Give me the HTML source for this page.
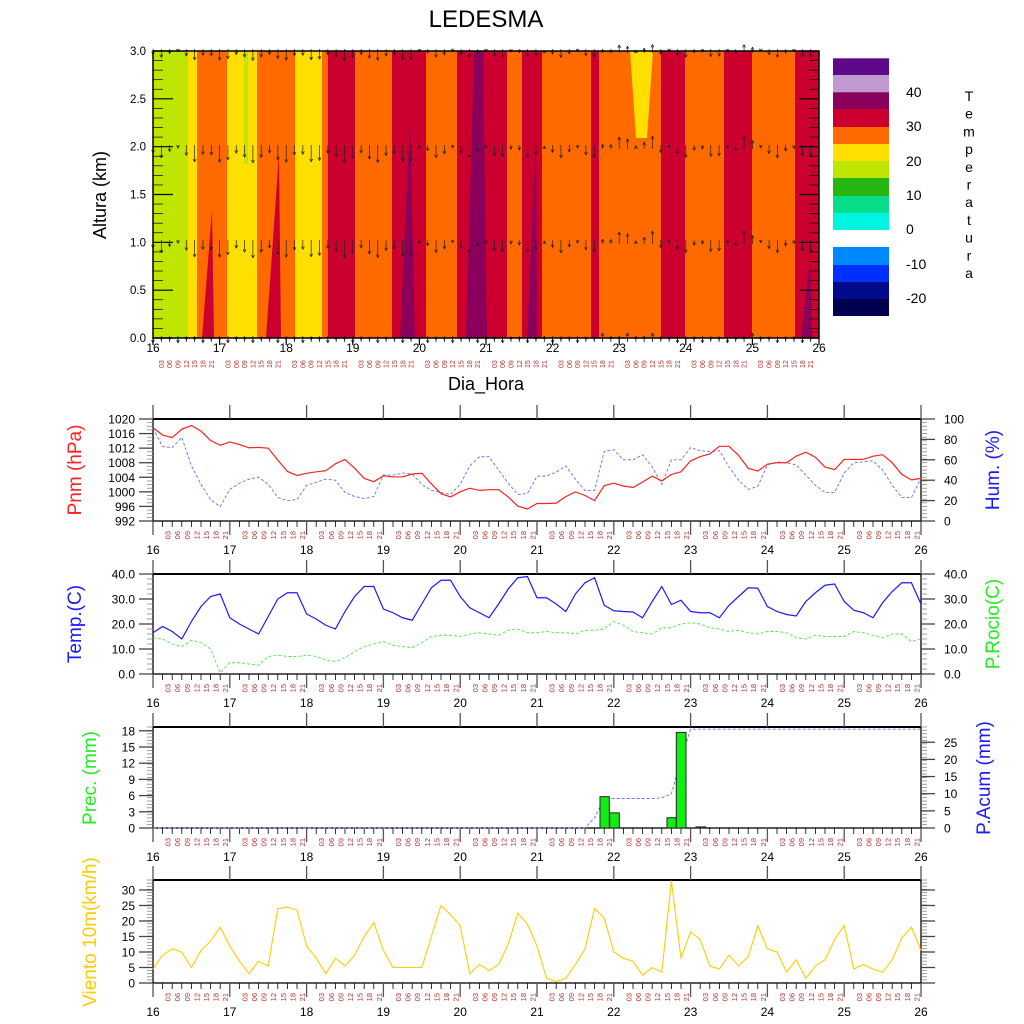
<!DOCTYPE html>
<html><head><meta charset="utf-8"><style>
html,body{margin:0;padding:0;background:#fff;}
svg{display:block;font-family:"Liberation Sans",sans-serif;}
</style></head><body>
<svg id="s" width="1024" height="1024" viewBox="0 0 1024 1024" xmlns="http://www.w3.org/2000/svg"></svg>
<script>
const S=document.getElementById('s');let H='';
function L(x1,y1,x2,y2,c,w,d){H+=`<line x1="${x1}" y1="${y1}" x2="${x2}" y2="${y2}" stroke="${c||'#000'}" stroke-width="${w||1}" ${d?`stroke-dasharray="${d}"`:''}/>`;}
function T(x,y,s,o){o=o||{};let tr=o.rot?`transform="rotate(${o.rot} ${x} ${y})"`:'';H+=`<text x="${x}" y="${y}" font-size="${o.fs||12}" fill="${o.c||'#000'}" text-anchor="${o.a||'start'}" ${tr}>${s}</text>`;}
function R(x,y,w,h,f){H+=`<rect x="${x}" y="${y}" width="${w}" height="${h}" fill="${f}"/>`;}
function P(pts,f){H+=`<polygon points="${pts}" fill="${f}"/>`;}
function PL(pts,c,w,d){H+=`<polyline points="${pts}" fill="none" stroke="${c}" stroke-width="${w}" ${d?`stroke-dasharray="${d}"`:''}/>`;}
const HR=["03","06","09","12","15","18","21"];
T(486,27,"LEDESMA",{fs:24,a:"middle"});
// ===== top panel
const C={gy:"#bfe600",y:"#ffdf00",o:"#ff6a00",r:"#cc002e",p:"#8a005a"};
const bands=[[153,188,'gy'],[188,197,'y'],[197,227,'o'],[227,257,'y'],[257,295,'o'],[295,322,'y'],[322,328,'o'],[328,355,'r'],[355,392,'o'],[392,426,'r'],[426,457,'o'],[457,507,'r'],[507,522,'o'],[522,542,'r'],[542,591,'o'],[591,599,'r'],[599,661,'o'],[661,685,'r'],[685,724,'o'],[724,752,'r'],[752,795,'o'],[795,819,'r']];
bands.forEach(b=>R(b[0],51,b[1]-b[0],287,C[b[2]]));
P("202,338 214,338 212,210","#cc002e");
R(244,51,4,113,C.gy);
P("266,338 281,338 279,154","#cc002e");
P("400,338 415,338 410,117","#8a005a");
P("466,338 487,338 483,51 474,51","#8a005a");
P("527,338 537,338 536,135","#8a005a");
P("630,51 653,51 647,138 636,138","#ffdf00");
P("801,338 812,338 810,257","#8a005a");
// arrows
const rows=[338,242,147,51];
for(let i=0;i<80;i++){const x=153+i*8.325;const d=i/8;let up=(d>=5.85&&d<6)||(d>=6.7&&d<7.6)||(d>=8.85&&d<9.1);
 let len=(Math.sin(i*1.7)+1.2)*5+(d>0.5&&d<4?5:0);
 rows.forEach((ry,k)=>{let l=(k==3)?len*0.6:len; if(k==0)l=(i%3)?2:5;
  if(up){L(x,ry+2,x,ry-l,'#222',0.7);L(x-1.5,ry-l+3,x,ry-l,'#222',0.7);L(x+1.5,ry-l+3,x,ry-l,'#222',0.7);}
  else{L(x,ry-2,x,ry+l,'#222',0.7);L(x-1.5,ry+l-3,x,ry+l,'#222',0.7);L(x+1.5,ry+l-3,x,ry+l,'#222',0.7);}});}
H+=`<rect x="153" y="51" width="666" height="287" fill="none" stroke="#000" stroke-width="1.5"/>`;
for(let k=0;k<=30;k++){const y=338-k*287/30;const m=k%5==0;L(153,y,153+(m?20:10),y,'#000',m?1.2:0.7);L(819,y,819-(m?20:10),y,'#000',m?1.2:0.7);}
for(let k=0;k<=6;k++){T(146,338-k*47.83+4,(k*0.5).toFixed(1),{fs:11.5,a:"end"});}
T(106,195,"Altura (km)",{fs:18,a:"middle",rot:-90});
for(let i=0;i<=80;i++){const x=153+i*8.325;if(i%8==0){L(x,338,x,345,'#000',1.2);T(x,352,16+i/8,{fs:12,a:"middle"});}else{L(x,338,x,342,'#000',0.7);T(x+2.5,368,HR[i%8-1],{fs:7,c:"#b03030",rot:-90});}}
T(486,390,"Dia_Hora",{fs:18,a:"middle"});
// colorbar
const cb=[[58.3,75,"#5c0a8a"],[75,92.3,"#c09ad0"],[92.3,109,"#8a005a"],[109,127,"#cc002e"],[127,144,"#ff6a00"],[144,161,"#ffdf00"],[161,178,"#bfe600"],[178,196,"#26b810"],[196,212.7,"#08dc88"],[212.7,229.7,"#00f5e0"],[247,265,"#0088ff"],[265,282,"#0030ff"],[282,299,"#000a8a"],[299,315.7,"#000050"]];
cb.forEach(c=>R(833,c[0],56,c[1]-c[0]+0.3,c[2]));
[["40",97],["30",131],["20",166],["10",200],["0",234],["-10",269],["-20",303]].forEach(a=>T(906,a[1],a[0],{fs:14}));
"Temperatura".split('').forEach((ch,i)=>T(969,101+i*17.7,ch,{fs:14,a:"middle"}));
// ===== lower panels
const X=i=>153+i*9.6;
function panel(top,bot,opt){
 H+=`<rect x="153" y="${top}" width="768" height="${bot-top}" fill="none" stroke="#000" stroke-width="1.3"/>`;
 L(153,top,921,top,'#000',2);
 for(let i=0;i<=80;i++){const x=X(i);if(i%8==0){L(x,top,x,top-14,'#555',1.3);L(x,bot,x,bot+14,'#555',1.3);T(x,bot+33,16+i/8,{fs:12,a:"middle"});}else{L(x,bot,x,bot+6,'#000',0.8);T(x+8,bot+10,HR[i%8-1],{fs:7.5,c:"#b03030",rot:-90,a:"end"});}}
 for(let k=0;k<=opt.nm;k++){const y=bot-k*(bot-top-(opt.pad||0))/opt.nm;if(y<top-0.5)continue;L(153,y,147,y,'#888',0.8);L(921,y,927,y,'#888',0.8);}
}
function axL(top,bot,vals,mapY,fmt){vals.forEach(v=>{const y=mapY(v);L(153,y,139,y,'#444',1.3);T(135,y+4.5,fmt(v),{fs:12,a:"end"});});}
function axR(vals,mapY,fmt,ticks){vals.forEach(v=>{const y=mapY(v);L(921,y,935,y,'#444',1.3);if(fmt!==null)T(944,y+4.5,fmt(v),{fs:12});});}
// panel 2
panel(419,521,{nm:28});
const pY=v=>521-(v-992)*102/28, hY=v=>521-v*1.02;
axL(419,521,[992,996,1000,1004,1008,1012,1016,1020],pY,v=>v);
axR([0,20,40,60,80,100],hY,v=>v);
const pr=[1017.6,1015.6,1014.9,1017.2,1018.2,1016.7,1014.1,1012.8,1013.7,1013,1012.1,1012.2,1012,1008.7,1005.6,1004.5,1005.1,1005.5,1005.8,1007.7,1008.9,1006.5,1003.7,1002.8,1004.4,1004.1,1004.1,1004.9,1005.1,1002.2,999.5,998.6,1000,1001,1000.4,1000.6,1000.6,998.6,996.1,995.3,996.8,996.8,996.9,998.7,1000,999,997.6,1001.7,1002.4,1001.6,1001.2,1002.7,1004.3,1003,1004.8,1005.5,1008.5,1009.7,1010.4,1012.5,1012.5,1010,1006.5,1005.7,1007.6,1008,1008,1009.8,1010.9,1009.5,1006.8,1006.1,1008.9,1008.9,1008.9,1009.8,1010.2,1008,1004.8,1003.3,1003.7];
const hu=[91,73,72,82,54,36,21,14,31,37,41,43,36,23,20,21,35,38,41,40,28,24,22,24,45,45,47,46,36,30,28,26,36,54,63,63,50,37,26,27,44,44,48,54,41,30,30,68,70,60,60,65,53,36,60,60,72,69,68,69,53,40,31,34,55,58,57,55,45,35,28,28,47,57,58,59,50,35,23,23,42];
PL(hu.map((v,i)=>X(i)+","+hY(v)).join(" "),"#6a6aff",0.9,"3,2");
PL(pr.map((v,i)=>X(i)+","+pY(v)).join(" "),"#ff2020",1.2);
T(81,470,"Pnm (hPa)",{fs:19,c:"#ff2020",a:"middle",rot:-90});
T(999,470,"Hum. (%)",{fs:19,c:"#1a1aff",a:"middle",rot:-90});
// panel 3
panel(574,674,{nm:20});
const tY=v=>674-v*2.5;
axL(574,674,[0,10,20,30,40],tY,v=>v.toFixed(1));
axR([0,10,20,30,40],tY,v=>v.toFixed(1));
const te=[16.5,19,17,14,21,27,31,32,22.5,20,18,16,23,30,32.5,32.5,24,22,19.5,18,25,31,35,35,26,24.5,22.5,21.5,28,34.5,37.5,37.5,31,26.5,24.5,22.5,28,34,38.5,39,30.5,30.5,28,25,32,36.5,38.5,27.5,25.3,25,24.8,22.5,29,35,27.8,29.5,25,24.5,24.5,22.5,27.5,31,34.5,34.3,27,25,23.8,23.2,29,32.5,35.5,36,29,25.5,24.5,22.5,28.5,33,36.5,36.5,28];
const dp=[14.5,14,12,11,13.5,12.5,10,0.5,4.5,4.5,4,3.5,7,7.5,7,7,7.5,7,5.5,5,6.5,9,11,12,13,11.5,11,10.5,12.5,15,15.5,15.5,15,16,16.5,16,15.5,17.5,18,16.5,16.5,17,16.5,16.5,16,17.5,17.5,18,21,19.5,17,16.5,16,18.5,18.5,20,20.5,20,18.5,18,17,17.5,16.5,16,17,17,16.5,14.5,14,15.5,15,15,15,17,16.5,15.5,14.5,16,16,13,14];
PL(dp.map((v,i)=>X(i)+","+tY(v)).join(" "),"#44ee44",0.9,"3,2");
PL(te.map((v,i)=>X(i)+","+tY(v)).join(" "),"#1a1aff",1.2);
T(81,624,"Temp.(C)",{fs:19,c:"#1a1aff",a:"middle",rot:-90});
T(999,624,"P.Rocio(C)",{fs:19,c:"#22ee22",a:"middle",rot:-90});
// panel 4
panel(727,828,{nm:30});
const aY=v=>828-v*3.43;
axL(727,828,[0,3,6,9,12,15,18],v=>828-v*5.4,v=>v);
axR([0,5,10,15,20,25],aY,v=>v);
const ac=[];for(let i=0;i<=80;i++){let v=0;if(i>=47)v=8.6;if(i>=54)v=10;if(i>=56)v=28.8;if(i==46)v=3;if(i==55)v=20;ac.push(v);}
ac[53]=8.8;
PL(ac.map((v,i)=>X(i)+","+aY(v)).join(" "),"#6a6aff",0.9,"3,2");
[[600,609.3,5.8],[609.7,619.3,2.8],[667,676.3,1.9],[676.3,686,17.7],[696,705.7,0.2]].forEach(b=>{const h=b[2]*5.4;H+=`<rect x="${b[0]}" y="${828-h}" width="${b[1]-b[0]}" height="${h}" fill="#11ee11" stroke="#222" stroke-width="1"/>`;});
T(96,778,"Prec. (mm)",{fs:19,c:"#22ee22",a:"middle",rot:-90});
T(990,778,"P.Acum (mm)",{fs:19,c:"#1a1aff",a:"middle",rot:-90});
// panel 5
panel(880,983,{nm:33});
const wY=v=>983-v*3.1;
axL(880,983,[0,5,10,15,20,25,30],wY,v=>v);
axR([0,5,10,15,20,25,30],wY,null);
const wi=[4.5,9,11,10,5,10.5,13.5,18,12,7,3,7,5.5,24,24.5,23.5,12,8,3,8,5.5,9,15,19.5,10.5,5,5,5,5,15,25,22,18.5,3,6,4,6,12.5,22.5,19,12,1.5,0.5,1.5,6,11,24,21,10,8,7,2.5,5,3.5,33,8,16.5,14,5.5,4.5,9,5.5,8.5,18.5,11,10,3.5,7.5,1.5,5.5,7.5,14,18.5,4.5,6,4.5,3.5,7.5,14.5,18,10.5];
PL(wi.map((v,i)=>X(i)+","+wY(v)).join(" "),"#ffcc00",1.1);
T(96,932,"Viento 10m(km/h)",{fs:19,c:"#ffcc00",a:"middle",rot:-90});
S.innerHTML=H;
</script>
</body></html>
